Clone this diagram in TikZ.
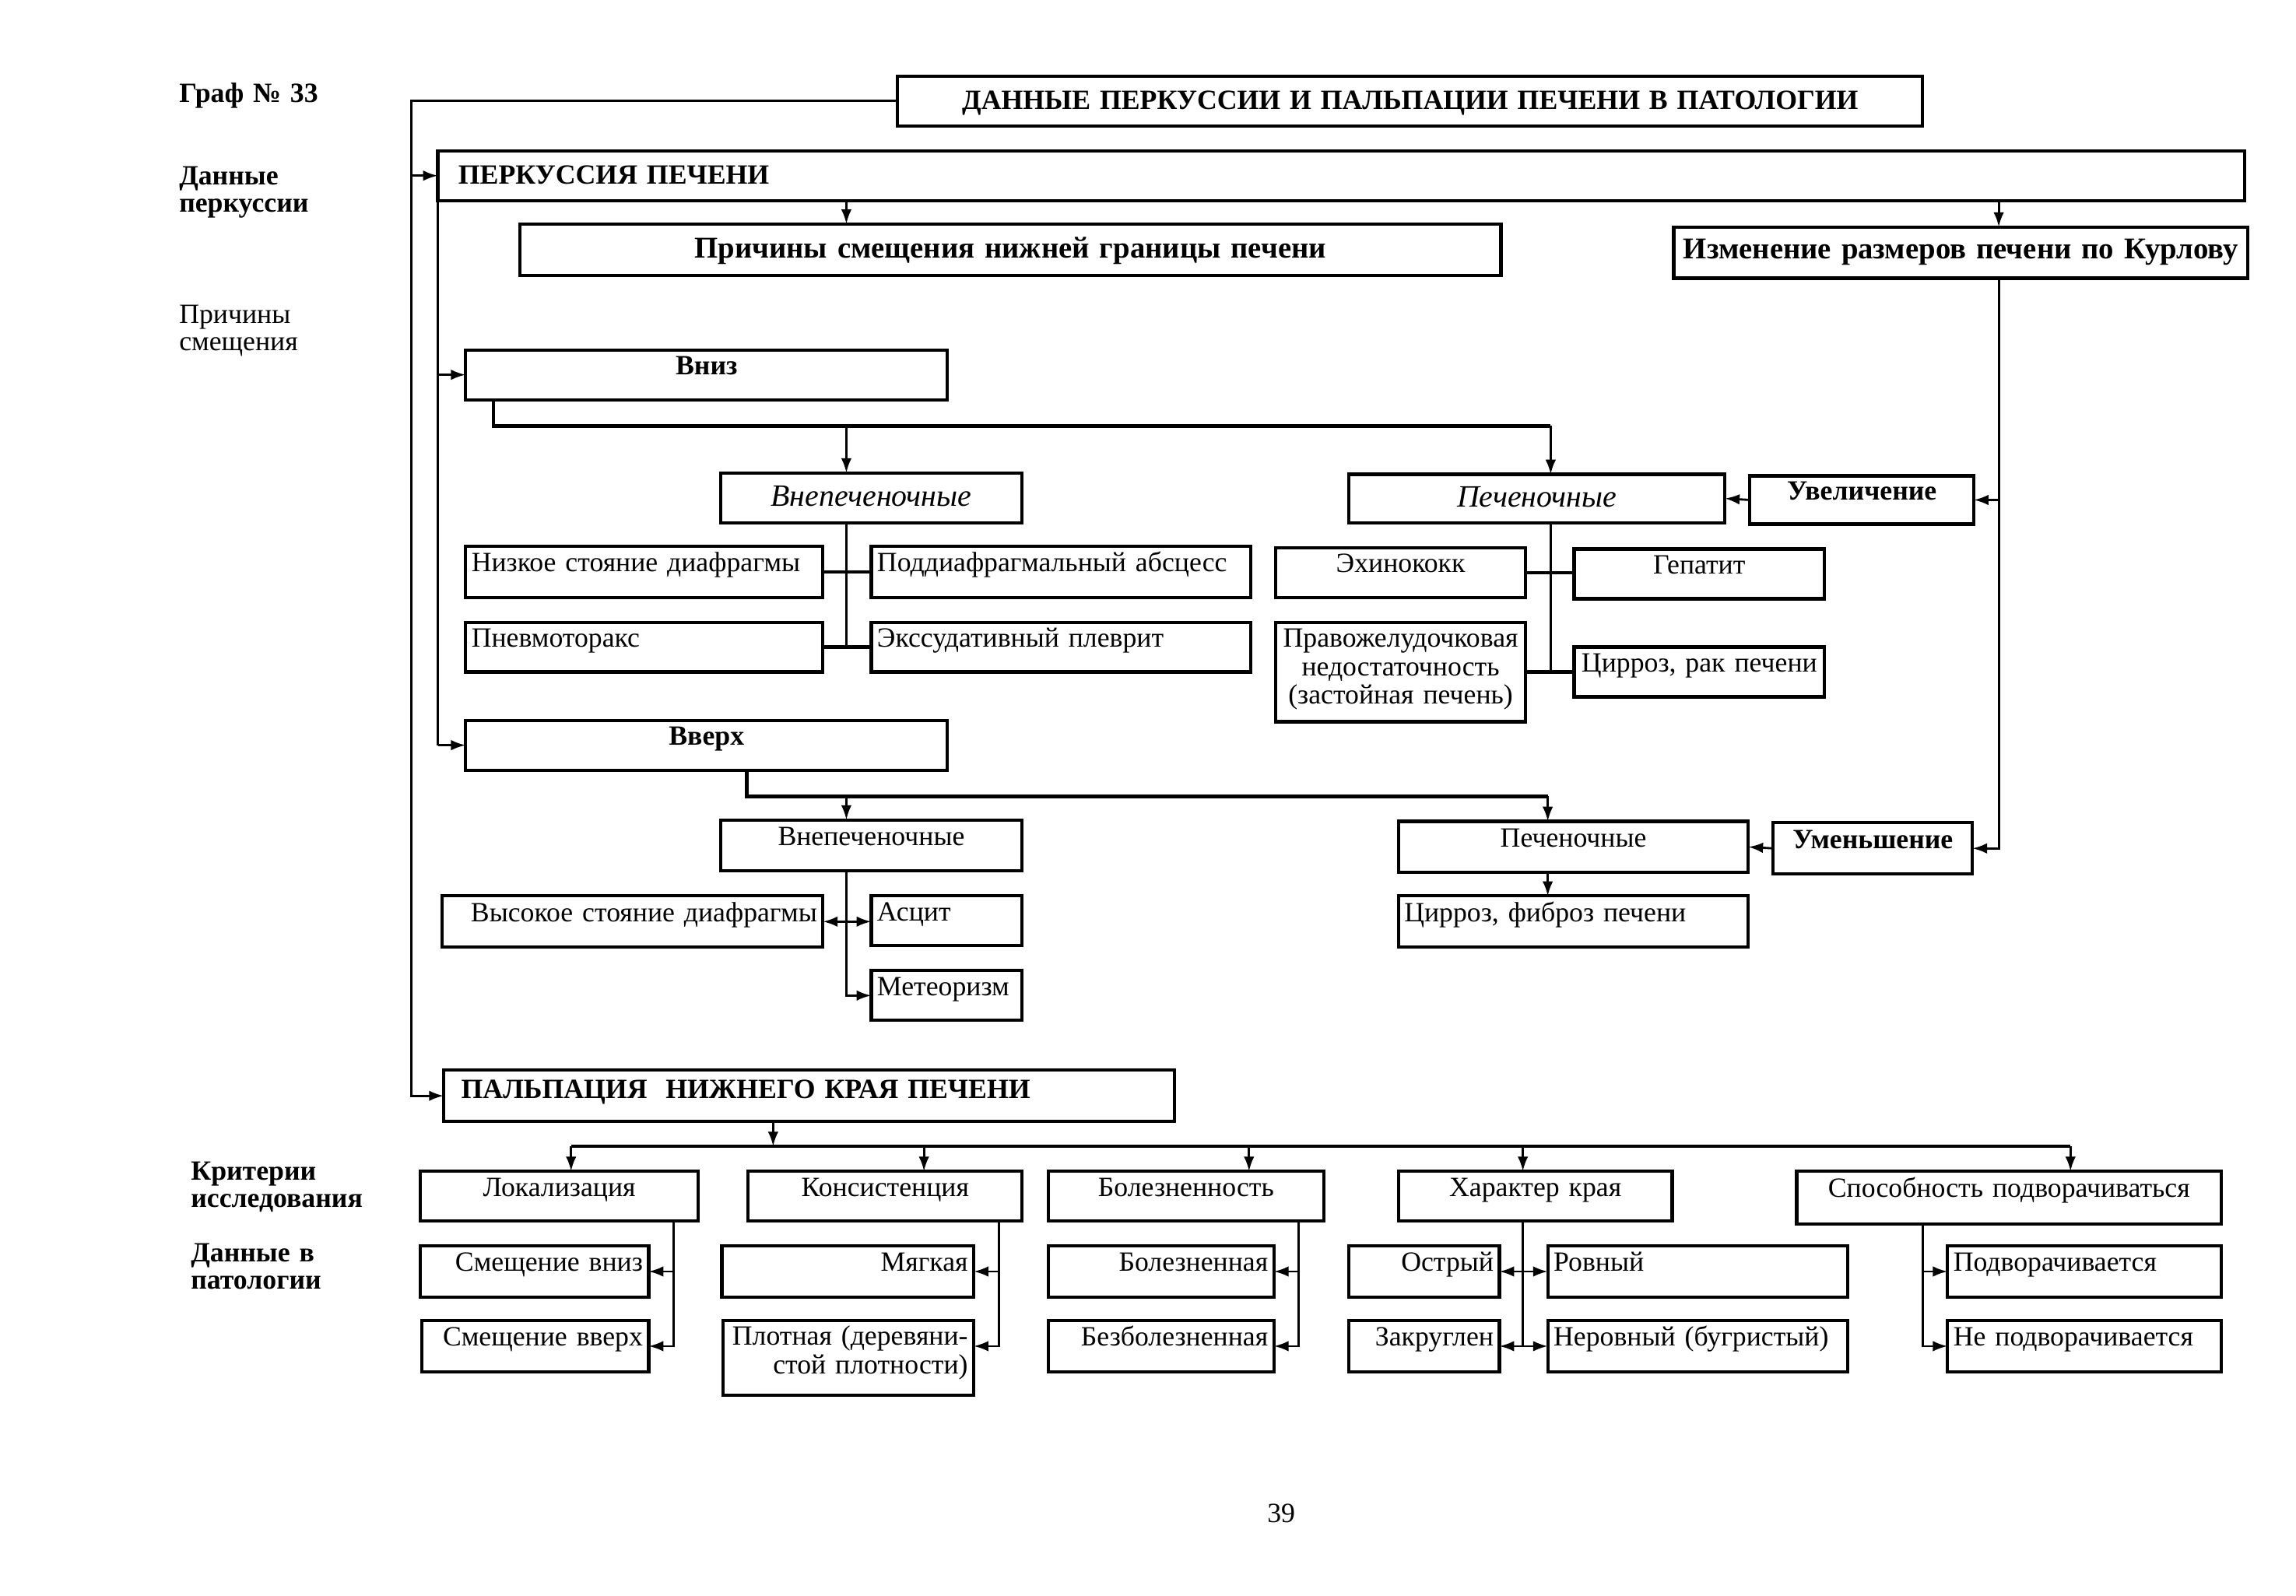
\documentclass[tikz,border=0pt]{standalone}
\usepackage{fontspec}
\setmainfont{Liberation Serif}
\usetikzlibrary{arrows.meta}
\newcommand\fs{\fontsize{9.5}{9.7}\selectfont}
\newcommand\bxx[7][]{%
  \pgfmathsetmacro\bxw{(#5-#3)*0.5}%
  \pgfmathsetmacro\bxh{(#6-#4)*0.5}%
  \pgfmathsetmacro\bxt{(#5-#3)*0.5-4}%
  \node[bx, minimum width=\bxw pt, minimum height=\bxh pt, text width=\bxt pt, #1] (#2) at ({(#3+#5)/2},{(#4+#6)/2}) {#7};}
\begin{document}
\begin{tikzpicture}[x=0.5pt,y=-0.5pt,
  bx/.style={draw, line width=1.1pt, inner sep=0pt, outer sep=0pt, text height=0pt, text depth=0pt, align=center, font=\fs},
  B/.style={font=\fs\bfseries},
  BB/.style={font=\fontsize{10.3}{11}\selectfont\bfseries},
  I/.style={font=\fontsize{10.6}{11}\selectfont\itshape},
  L/.style={align=left},
  R/.style={align=right},
  lab/.style={inner sep=0pt, text width=80pt, align=left, anchor=base west, font=\fontsize{9.5}{9.3}\selectfont\bfseries},
  ln/.style={line width=0.75pt},
  bus/.style={line width=1.1pt},
  arr/.style={ln, -{Latex[length=5pt,width=3.6pt]}},
  dar/.style={ln, {Latex[length=5pt,width=3.6pt]}-{Latex[length=5pt,width=3.6pt]}}
]
\fill[white] (0,0) rectangle (1568,1090);
\useasboundingbox (0,0) rectangle (1568,1090);

% left labels
\node[lab] (g33) at (122,70) {Граф № 33};
\node[lab] (ldp) at (122,126) {Данные\\перкуссии};
\node[lab, font=\fontsize{9.5}{9.3}\selectfont] (lps) at (122,220.6) {Причины\\смещения};
\node[lab] (lkr) at (130,806) {Критерии\\исследования};
\node[lab] (ldn) at (130,862) {Данные в\\патологии};
\node[anchor=base, inner sep=0pt, font=\fs] (pg) at (875,1040) {39};

% boxes
\bxx[B, text height=5.5pt]{title}{613}{52}{1313}{86}{ДАННЫЕ ПЕРКУССИИ И ПАЛЬПАЦИИ ПЕЧЕНИ В ПАТОЛОГИИ}
\bxx[B, L, text height=5.5pt]{perc}{299}{103}{1533}{137}{\hspace*{5pt}ПЕРКУССИЯ ПЕЧЕНИ}
\bxx[BB, text height=5.5pt]{prich}{355}{153}{1025}{188}{Причины смещения нижней границы печени}
\bxx[BB, text height=4.5pt, text width=195pt]{kurl}{1143}{155}{1535}{190}{Изменение размеров печени по Курлову}
\bxx[B]{vniz}{318}{239}{647}{273}{Вниз}
\bxx[I, text height=6pt]{vnep1}{492}{323}{698}{357}{Внепеченочные}
\bxx[I, text height=6pt]{pech1}{921}{324}{1178}{357}{Печеночные}
\bxx[B]{uvel}{1195}{325}{1348}{358}{Увеличение}
\bxx[L]{niz}{318}{373}{562}{408}{Низкое стояние диафрагмы}
\bxx[L]{podd}{595}{373}{854}{408}{Поддиафрагмальный абсцесс}
\bxx[L]{pnev}{318}{425}{562}{459}{Пневмоторакс}
\bxx[L]{exs}{595}{425}{854}{459}{Экссудативный плеврит}
\bxx{ehin}{871}{374}{1042}{408}{Эхинококк}
\bxx{gep}{1075}{375}{1246}{409}{Гепатит}
\bxx[text depth=17pt]{prav}{871}{425}{1042}{493}{Правожелудочковая\\недостаточность\\(застойная печень)}
\bxx{cirr}{1075}{442}{1246}{476}{Цирроз, рак печени}
\bxx[B]{vverh}{318}{492}{647}{526}{Вверх}
\bxx{vnep2}{492}{560}{698}{595}{Внепеченочные}
\bxx{pech2}{955}{561}{1194}{596}{Печеночные}
\bxx[B]{umen}{1211}{562}{1347}{597}{Уменьшение}
\bxx[L]{cirrfib}{955}{612}{1194}{647}{Цирроз, фиброз печени}
\bxx[R]{vys}{302}{612}{562}{647}{Высокое стояние диафрагмы}
\bxx[L]{asc}{595}{612}{698}{646}{Асцит}
\bxx[L]{meteo}{595}{663}{698}{697}{Метеоризм}
\bxx[B, L, text height=1.5pt]{palp}{303}{731}{802}{766}{\hspace*{4pt}ПАЛЬПАЦИЯ\ \ НИЖНЕГО КРАЯ ПЕЧЕНИ}
\bxx{lok}{287}{800}{477}{834}{Локализация}
\bxx{kons}{511}{800}{698}{834}{Консистенция}
\bxx{bolez}{716}{800}{904}{834}{Болезненность}
\bxx{har}{955}{800}{1142}{834}{Характер края}
\bxx{spos}{1227}{800}{1517}{836}{Способность подворачиваться}
\bxx[R]{smv}{287}{851}{443}{886}{Смещение вниз}
\bxx[R]{smvv}{288}{902}{443}{937}{Смещение вверх}
\bxx[R]{myag}{493}{851}{665}{886}{Мягкая}
\bxx[R, text depth=8.5pt]{plot}{494}{902}{665}{953}{Плотная (деревяни-\\стой плотности)}
\bxx[R]{bol}{716}{851}{870}{886}{Болезненная}
\bxx[R]{bezb}{716}{902}{870}{937}{Безболезненная}
\bxx[R]{ostr}{921}{851}{1024}{886}{Острый}
\bxx[R]{zakr}{921}{902}{1024}{937}{Закруглен}
\bxx[L]{rov}{1057}{851}{1262}{886}{Ровный}
\bxx[L]{nerov}{1057}{902}{1262}{937}{Неровный (бугристый)}
\bxx[L]{pod}{1330}{851}{1517}{886}{Подворачивается}
\bxx[L]{nepod}{1330}{902}{1517}{937}{Не подворачивается}

% helper coordinates
\coordinate (xo) at (281,0);
\coordinate (c1) at (578,0);
\coordinate (c2) at (1365,0);
\coordinate (c3) at (337,0);
\coordinate (c4) at (1059,0);
\coordinate (c5) at (510,0);
\coordinate (c6) at (1057,0);
\coordinate (b1) at (0,291);
\coordinate (b2) at (0,544);
\coordinate (b3) at (0,783);
\coordinate (p0) at (528,0);
\coordinate (p1) at (390,0);
\coordinate (p2) at (631,0);
\coordinate (p3) at (853,0);
\coordinate (p4) at (1040,0);
\coordinate (p5) at (1414,0);
\coordinate (d1) at (460,0);
\coordinate (d2) at (682,0);
\coordinate (d3) at (887,0);
\coordinate (d5) at (1313,0);

% connectors: percussion
\draw[arr] (title.west) -- (xo |- title.west) |- (palp.west);
\draw[arr] (xo |- perc.west) -- (perc.west);
\draw[ln] (perc.south west) -- (perc.south west |- vverh.west);
\draw[arr] (perc.south west |- vniz.west) -- (vniz.west);
\draw[arr] (perc.south west |- vverh.west) -- (vverh.west);
\draw[arr] (c1 |- perc.south) -- (c1 |- prich.north);
\draw[arr] (c2 |- perc.south) -- (c2 |- kurl.north);
\draw[arr] (c2 |- kurl.south) |- (umen.east);
\draw[arr] (c2 |- uvel.east) -- (uvel.east);
\draw[arr] (uvel.west) -- (pech1.east);
\draw[arr] (umen.west) -- (pech2.east);
% down
\draw[bus] (c3 |- vniz.south) |- (c4 |- b1);
\draw[arr] (c1 |- b1) -- (c1 |- vnep1.north);
\draw[arr] (c4 |- b1) -- (c4 |- pech1.north);
\draw[ln] (c1 |- vnep1.south) -- (c1 |- pnev.east);
\draw[bus] (niz.east) -- (podd.west);
\draw[bus] (pnev.east) -- (exs.west);
\draw[ln] (c4 |- pech1.south) -- (c4 |- cirr.west);
\draw[bus] (ehin.east) -- (ehin.east -| gep.west);
\draw[bus] (prav.east) -- (prav.east -| cirr.west);
% up
\draw[bus] (c5 |- vverh.south) |- (c6 |- b2);
\draw[arr] (c1 |- b2) -- (c1 |- vnep2.north);
\draw[arr] (c6 |- b2) -- (c6 |- pech2.north);
\draw[arr] (c6 |- pech2.south) -- (c6 |- cirrfib.north);
\draw[arr] (c1 |- vnep2.south) |- (meteo.west);
\draw[dar] (vys.east) -- (vys.east -| asc.west);
% palpation
\draw[arr] (p0 |- palp.south) -- (p0 |- b3);
\draw[bus] (p1 |- b3) -- (p5 |- b3);
\draw[arr] (p1 |- b3) -- (p1 |- lok.north);
\draw[arr] (p2 |- b3) -- (p2 |- kons.north);
\draw[arr] (p3 |- b3) -- (p3 |- bolez.north);
\draw[arr] (p4 |- b3) -- (p4 |- har.north);
\draw[arr] (p5 |- b3) -- (p5 |- spos.north);
\draw[arr] (d1 |- lok.south) |- (smvv.east);
\draw[arr] (d1 |- smv.east) -- (smv.east);
\draw[arr] (d2 |- kons.south) |- (plot.east |- smvv.east);
\draw[arr] (d2 |- myag.east) -- (myag.east);
\draw[arr] (d3 |- bolez.south) |- (bezb.east);
\draw[arr] (d3 |- bol.east) -- (bol.east);
\draw[ln] (p4 |- har.south) -- (p4 |- zakr.east);
\draw[dar] (ostr.east) -- (rov.west);
\draw[dar] (zakr.east) -- (nerov.west);
\draw[arr] (d5 |- spos.south) |- (nepod.west);
\draw[arr] (d5 |- pod.west) -- (pod.west);
\end{tikzpicture}
\end{document}
